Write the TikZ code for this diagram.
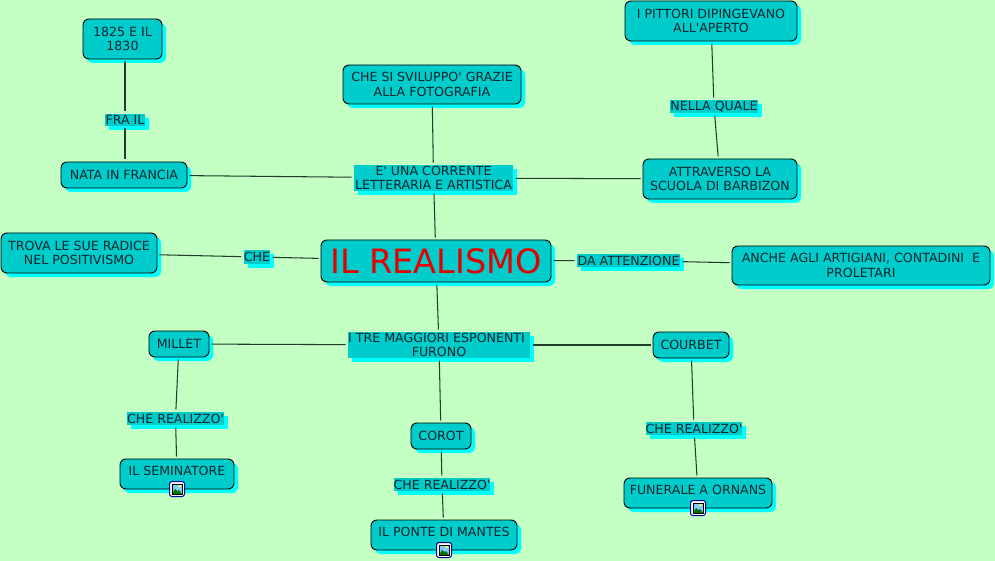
\documentclass[tikz,border=0pt]{standalone}
\usepackage{fontspec}
\setmainfont{DejaVu Sans}
\usetikzlibrary{shadows,calc}
\definecolor{bgc}{HTML}{C4FFC4}
\definecolor{boxc}{HTML}{00CCCC}
\definecolor{shc}{HTML}{00FFFF}
\definecolor{linec}{HTML}{1F3F2B}
\definecolor{txtc}{HTML}{06262C}
\newcommand{\q}{\textquotesingle}
\tikzset{
 x=1pt,y=-1pt,
 basenode/.style={fill=boxc,text=txtc,font=\fontsize{12.6}{14.2}\selectfont,align=center,inner sep=0pt,outer sep=2.5pt,
   drop shadow={shadow xshift=4pt,shadow yshift=-4pt,fill=shc,opacity=1}},
 box/.style={basenode,draw=black,line width=0.9pt,rounded corners=6pt},
 lab/.style={basenode,outer sep=2.5pt},
 conn/.style={draw=linec,line width=1.05pt},
 sz/.style n args={2}{minimum width=#1pt,minimum height=#2pt},
 iconbox/.style={draw=blue!60!black,fill=white,rounded corners=2.5pt,line width=1pt,minimum width=15pt,minimum height=15pt,inner sep=0pt}
}
\newcommand{\imgicon}[1]{%
 \node[iconbox] (#1) {};
 \fill[blue!40!cyan!50] ($(#1)+(-5,-5)$) rectangle ($(#1)+(5,5)$);
 \fill[yellow!70!white] ($(#1)+(2.5,-3)$) circle (1.7);
 \fill[green!45!black] ($(#1)+(-5,5)$) -- ($(#1)+(-2,0)$) -- ($(#1)+(0.5,2)$) -- ($(#1)+(2,1)$) -- ($(#1)+(5,5)$) -- cycle;
 \draw[black,line width=0.4pt] ($(#1)+(-5,-5)$) rectangle ($(#1)+(5,5)$);
}
\begin{document}
\begin{tikzpicture}
\path[fill=bgc,use as bounding box] (0,0) rectangle (995,561);
% boxes
\node[box,sz={79}{40}] (d1825) at (122.5,39) {1825 E IL\\1830};
\node[box,sz={126}{26}] (nata) at (124,175) {NATA IN FRANCIA};
\node[box,sz={178}{39}] (foto) at (432,84.5) {CHE SI SVILUPPO\q{} GRAZIE\\ALLA FOTOGRAFIA};
\node[box,sz={172}{40}] (pittori) at (711,21) {I PITTORI DIPINGEVANO\\ALL\q{}APERTO};
\node[box,sz={154}{40}] (scuola) at (720,179) {ATTRAVERSO LA\\SCUOLA DI BARBIZON};
\node[box,sz={230}{42},font=\fontsize{33.5}{38}\selectfont,text=red!90!black] (real) at (436,261) {IL REALISMO};
\node[box,sz={156}{40}] (trova) at (79,253) {TROVA LE SUE RADICE\\NEL POSITIVISMO};
\node[box,sz={258}{39}] (anche) at (861,265.5) {ANCHE AGLI ARTIGIANI, CONTADINI~ E\\PROLETARI};
\node[box,sz={60}{26}] (millet) at (179,344) {MILLET};
\node[box,sz={76}{26}] (courbet) at (691,345) {COURBET};
\node[box,sz={60}{26}] (corot) at (441,436) {COROT};
\node[box,sz={114}{30},text height=16pt,text depth=14pt] (semin) at (177,474) {IL SEMINATORE};
\node[box,sz={146}{30},text height=16pt,text depth=14pt] (ponte) at (444,535) {IL PONTE DI MANTES};
\node[box,sz={148}{30},text height=16pt,text depth=14pt] (funer) at (698,493) {FUNERALE A ORNANS};
% labels
\node[lab,sz={159}{26}] (corr) at (433.5,178) {E\q{} UNA CORRENTE\\LETTERARIA E ARTISTICA};
\node[lab,sz={182}{26}] (tre) at (439,345) {I TRE MAGGIORI ESPONENTI\hspace*{5pt}\\FURONO};
\node[lab,sz={26}{13}] (che) at (257,257) {CHE};
\node[lab,sz={103}{13}] (atten) at (628.5,260.5) {DA ATTENZIONE};
\node[lab,sz={40}{12}] (frail) at (125,120) {FRA IL};
\node[lab,sz={84}{13}] (nella) at (714,106.5) {NELLA QUALE};
\node[lab,sz={95}{13}] (cr1) at (175.5,418.5) {CHE REALIZZO\q};
\node[lab,sz={96}{13}] (cr2) at (442,484.5) {CHE REALIZZO\q};
\node[lab,sz={96}{13}] (cr3) at (694,428.5) {CHE REALIZZO\q};
% connectors
\draw[conn] (d1825.south -| frail) -- (frail);
\draw[conn] (frail) -- (nata.north -| frail);
\draw[conn] (nata) -- (corr);
\draw[conn] (foto) -- (corr);
\draw[conn] (corr) -- (scuola);
\draw[conn] (scuola) -- (nella);
\draw[conn] (nella) -- (pittori);
\draw[conn] (corr) -- (real);
\draw[conn] (trova) -- (che);
\draw[conn] (che) -- (real);
\draw[conn] (real) -- (atten);
\draw[conn] (atten) -- (anche);
\draw[conn] (real) -- (tre);
\draw[conn] (millet) -- (tre);
\draw[conn] (tre) -- (courbet);
\draw[conn] (tre) -- (corot);
\draw[conn] (millet) -- (cr1);
\draw[conn] (cr1) -- (semin);
\draw[conn] (corot) -- (cr2);
\draw[conn] (cr2) -- (ponte);
\draw[conn] (courbet) -- (cr3);
\draw[conn] (cr3) -- (funer);
% icons
\begin{scope}[shift={(177,489)}]\imgicon{ia}\end{scope}
\begin{scope}[shift={(444,550)}]\imgicon{ib}\end{scope}
\begin{scope}[shift={(698,508)}]\imgicon{ic}\end{scope}
\end{tikzpicture}
\end{document}
